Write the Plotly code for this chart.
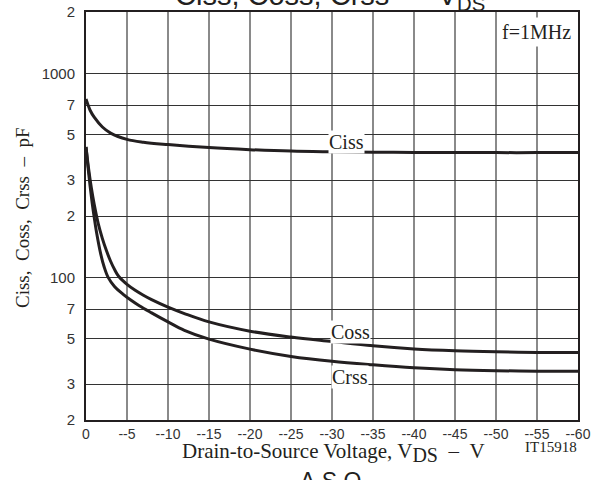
import plotly.graph_objects as go

# Data
ciss_v = [0, -0.25, -0.5, -1, -2, -3, -5, -7, -10, -15, -20, -25, -30, -35, -40, -45, -50, -55, -60]
ciss_c = [750, 700, 660, 610, 546, 510, 475, 460, 448, 433, 423, 416, 413, 411, 410, 409.5, 409, 409, 409]

coss_v = [0, -0.3, -0.65, -1.0, -1.5, -2, -2.5, -3, -3.5, -4, -5, -6, -7, -8, -10, -12, -15, -20, -25, -30, -35, -40, -45, -50, -55, -60]
coss_c = [436, 345, 275, 228, 183, 155, 135, 120, 109, 101, 92.5, 86.5, 81.8, 77.8, 71.5, 66.5, 60.5, 54.5, 51, 48.5, 46.2, 44.6, 43.7, 43.2, 42.9, 42.8]

crss_v = [0, -0.25, -0.5, -0.75, -1, -1.3, -1.8, -2.2, -2.7, -3.5, -4.5, -5.5, -6.5, -8, -10, -12, -15, -20, -25, -30, -35, -40, -45, -50, -55, -60]
crss_c = [436, 345, 280, 232, 197, 165, 130, 113, 100, 90, 82.8, 77.2, 72.6, 67, 60.5, 55, 49.8, 44.5, 41, 38.8, 37.3, 36.1, 35.3, 34.9, 34.7, 34.7]

x_ticks = [0, -5, -10, -15, -20, -25, -30, -35, -40, -45, -50, -55, -60]
x_tick_text = ["0"] + ["--%d" % abs(v) for v in x_ticks[1:]]
y_ticks = [20, 30, 50, 70, 100, 200, 300, 500, 700, 1000, 2000]
y_tick_text = ["2", "3", "5", "7", "100", "2", "3", "5", "7", "1000", "2"]

LINE = "#231f20"
SERIF = "Liberation Serif"
SANS = "Liberation Sans"
NB = "\u00a0"

fig = go.Figure()
for v, c, name in [(ciss_v, ciss_c, "Ciss"), (coss_v, coss_c, "Coss"), (crss_v, crss_c, "Crss")]:
    fig.add_trace(go.Scatter(x=v, y=c, mode="lines", name=name,
                             line=dict(color=LINE, width=3, shape="spline", smoothing=1.0),
                             showlegend=False, hoverinfo="skip"))

W, H = 608, 480
L, R, T, B = 86, 30, 12, 60
fig.update_layout(
    width=W, height=H,
    margin=dict(l=L, r=R, t=T, b=B, autoexpand=False),
    paper_bgcolor="white", plot_bgcolor="white",
    xaxis=dict(range=[0, -60], tickvals=x_ticks, ticktext=x_tick_text,
               showgrid=True, gridcolor="#8a8a8a", gridwidth=1.5,
               showline=True, linecolor="#231f20", linewidth=2, mirror=True,
               ticks="", zeroline=False, ticklabelstandoff=0, automargin=False,
               tickfont=dict(family=SANS, size=14, color="#333")),
    yaxis=dict(type="log", range=[1.30103, 3.30103], tickvals=y_ticks, ticktext=y_tick_text,
               showgrid=True, gridcolor="#333333", gridwidth=1.3,
               showline=True, linecolor="#231f20", linewidth=2, mirror=True,
               ticks="", zeroline=False, ticklabelstandoff=6, automargin=False,
               tickfont=dict(family=SANS, size=15, color="#333")),
)

sp2 = NB * 2
annotations = [
    dict(text="Ciss", x=-31.8, y=2.665, xref="x", yref="y",
         font=dict(family=SERIF, size=20, color=LINE), bgcolor="white", borderpad=0),
    dict(text="Coss", x=-32.3, y=1.730, xref="x", yref="y",
         font=dict(family=SERIF, size=20, color=LINE), bgcolor="white", borderpad=0),
    dict(text="Crss", x=-32.2, y=1.512, xref="x", yref="y",
         font=dict(family=SERIF, size=20, color=LINE), bgcolor="white", borderpad=0),
    dict(text="f=1MHz", x=536, y=32, xref="paper", yref="paper",
         font=dict(family=SERIF, size=20, color=LINE), bgcolor="white", borderpad=3),
    dict(text="Drain-to-Source Voltage, V<sub><span style='font-size:20px'>DS</span></sub>"
              + sp2 + "–" + sp2 + "V", x=333, y=452,
         xref="paper", yref="paper",
         font=dict(family=SERIF, size=21, color=LINE)),
    dict(text="IT15918", x=551, y=447, xref="paper", yref="paper",
         font=dict(family=SERIF, size=15, color=LINE)),
    dict(text="Ciss," + sp2 + "Coss," + sp2 + "Crss" + sp2 + "–" + sp2 + "pF", x=22, y=218,
         xref="paper", yref="paper", textangle=-90,
         font=dict(family=SERIF, size=19, color=LINE)),
    dict(text="Ciss," + NB + "Coss," + NB + "Crss" + sp2 + "–" + sp2 + "V<sub>DS</sub>", x=330, y=-3,
         xref="paper", yref="paper", font=dict(family=SANS, size=29, color=LINE)),
    dict(text="A" + NB + "S" + NB + "O", x=330, y=481, xref="paper", yref="paper",
         font=dict(family=SANS, size=23, color=LINE)),
]

# convert pixel positions for paper-referenced annotations
pw, ph = W - L - R, H - T - B
for a in annotations:
    a["showarrow"] = False
    a["xanchor"] = "center"
    a["yanchor"] = "middle"
    if a["xref"] == "paper":
        a["x"] = (a["x"] - L) / pw
        a["y"] = 1 - (a["y"] - T) / ph
fig.update_layout(annotations=annotations)

fig.write_html("out.html", config={"displayModeBar": False},
               post_script="document.body.style.margin='0';document.body.style.overflow='hidden';")
